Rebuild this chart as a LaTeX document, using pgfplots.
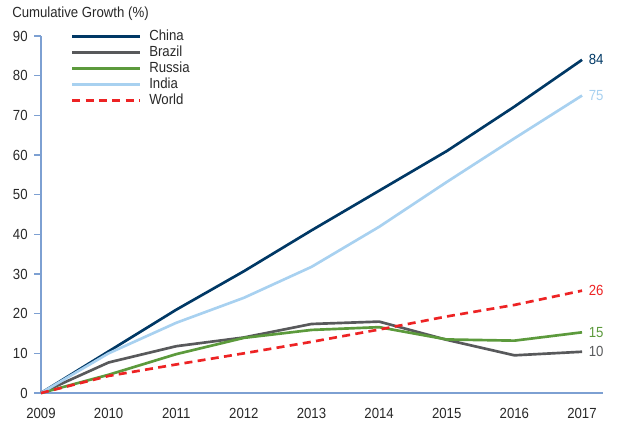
\documentclass[border=0pt]{standalone}
\usepackage{pgfplots}
\pgfplotsset{compat=1.18}
\usepackage{fontspec}
\setmainfont{Liberation Sans}[FakeStretch=0.9]
\definecolor{china}{RGB}{0,56,101}
\definecolor{brazil}{RGB}{88,89,91}
\definecolor{russia}{RGB}{92,154,60}
\definecolor{india}{RGB}{168,209,240}
\definecolor{world}{RGB}{237,35,36}
\definecolor{axisc}{RGB}{125,160,210}
\definecolor{txt}{RGB}{40,40,40}
\newcommand{\fs}{\fontsize{11pt}{13pt}\selectfont}
\begin{document}
\begin{tikzpicture}
\begin{axis}[
  scale only axis,
  width=421.5pt, height=267.75pt,
  xmin=2009, xmax=2017.31,
  ymin=0, ymax=90,
  axis lines*=left,
  axis line style={axisc, line width=0.8pt},
  axis line style={-},
  xtick={2009,...,2017},
  ytick={0,10,...,90},
  x tick label style={/pgf/number format/1000 sep={}},
  xticklabel style={yshift=-3pt},
  yticklabel style={xshift=-1.5pt},
  ytick style={axisc, line width=0.8pt},
  xtick style={draw=none},
  major tick length=5pt,
  tick align=outside,
  ticklabel style={font=\fs, text=txt},
  /pgf/number format/assume math mode=true,
  clip=false,
  legend cell align=left,
  legend style={draw=none, fill=none, inner sep=0pt,
    at={(rel axis cs:0.0528,1.0224)}, anchor=north west,
    font=\fs, text=txt, row sep=0pt,
    nodes={text height=8pt, text depth=2pt, inner sep=1pt},
    /tikz/every odd column/.append style={column sep=4.75pt}},
  legend image code/.code={\draw[#1] (0pt,0pt) -- (51pt,0pt);},
]
\addplot[china, line width=2pt] coordinates {(2009,0) (2010,10.5) (2011,21) (2012,30.7) (2013,41) (2014,51) (2015,61) (2016,72.2) (2017,84)};
\addlegendentry{China}
\addplot[brazil, line width=2pt] coordinates {(2009,0) (2010,7.7) (2011,11.8) (2012,14) (2013,17.4) (2014,18) (2015,13.4) (2016,9.5) (2017,10.4)};
\addlegendentry{Brazil}
\addplot[russia, line width=2pt] coordinates {(2009,0) (2010,4.6) (2011,9.8) (2012,13.9) (2013,15.9) (2014,16.6) (2015,13.5) (2016,13.2) (2017,15.3)};
\addlegendentry{Russia}
\addplot[india, line width=2pt] coordinates {(2009,0) (2010,10) (2011,17.7) (2012,24) (2013,31.8) (2014,41.9) (2015,53.2) (2016,64.2) (2017,75)};
\addlegendentry{India}
\addplot[world, line width=2pt, dash pattern=on 6pt off 4pt] coordinates {(2009,0) (2010,4.3) (2011,7.2) (2012,10) (2013,12.9) (2014,16) (2015,19.3) (2016,22.2) (2017,25.8)};
\addlegendentry{World}
\node[anchor=west, text=china, font=\fs, xshift=1.5pt] at (axis cs:2017,84) {84};
\node[anchor=west, text=india, font=\fs, xshift=1.5pt] at (axis cs:2017,75) {75};
\node[anchor=west, text=world, font=\fs, xshift=1.5pt] at (axis cs:2017,25.8) {26};
\node[anchor=west, text=russia, font=\fs, xshift=1.5pt] at (axis cs:2017,15.3) {15};
\node[anchor=west, text=brazil, font=\fs, xshift=1.5pt] at (axis cs:2017,10.4) {10};
\node[anchor=west, inner sep=0pt, text=txt, font=\fs, xshift=-21.75pt, yshift=16.5pt] at (rel axis cs:0,1) {Cumulative Growth (\%)};
\coordinate (o) at (rel axis cs:0,0);
\end{axis}
\pgfresetboundingbox
\path (o) ++(-30.75pt,-21.75pt) rectangle ++(462.75pt,316.5pt);
\end{tikzpicture}
\end{document}
